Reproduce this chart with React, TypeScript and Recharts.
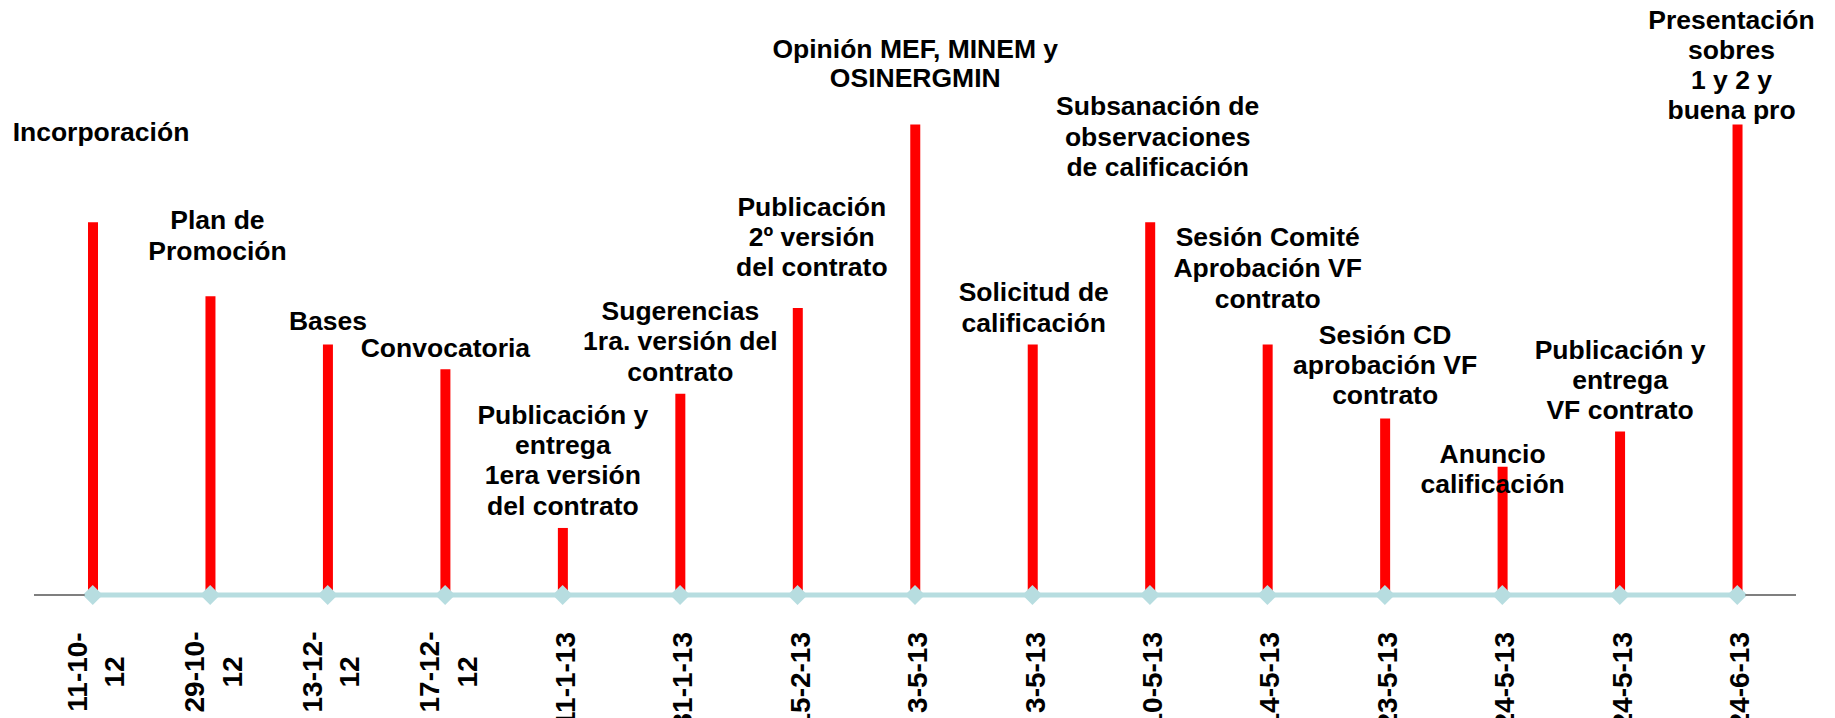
import React from "react";
import { ComposedChart, Bar, Line, XAxis, YAxis, LabelList } from "recharts";

// ---- data ----
const dates = [
  "11-10-12", "29-10-12", "13-12-12", "17-12-12", "11-1-13",
  "31-1-13", "15-2-13", "3-5-13", "3-5-13", "10-5-13",
  "14-5-13", "23-5-13", "24-5-13", "24-5-13", "24-6-13",
];
const heights = [3.17, 2.54, 2.13, 1.92, 0.57, 1.71, 2.44, 4.0, 2.13, 3.17, 2.13, 1.5, 1.09, 1.39, 4.0];
const events: string[][] = [
  ["Incorporación"],
  ["Plan de", "Promoción"],
  ["Bases"],
  ["Convocatoria"],
  ["Publicación y", "entrega", "1era versión", "del contrato"],
  ["Sugerencias", "1ra. versión del", "contrato"],
  ["Publicación", "2º versión", "del contrato"],
  ["Opinión MEF, MINEM y", "OSINERGMIN"],
  ["Solicitud de", "calificación"],
  ["Subsanación de", "observaciones", "de calificación"],
  ["Sesión Comité", "Aprobación VF", "contrato"],
  ["Sesión CD", "aprobación VF", "contrato"],
  ["Anuncio", "calificación"],
  ["Publicación y", "entrega", "VF contrato"],
  ["Presentación", "sobres", "1 y 2 y", "buena pro"],
];

// ---- label placement (style) ----
const labelDx = [8, 7, 0, 0, 0, 0, 14, 0, 1, 7.5, 0, 0, -10, 0, -6];
const labelDy = [-81, -36.7, -14.3, -12.6, -13.3, -13.3, -31.6, -38, -12.3, -46, -36.7, -14.3, 26, -13, -6];
const labelLineH = [30, 31, 30, 30, 30.3, 30.3, 30.3, 29, 31, 30.5, 30.8, 30, 30, 30, 30];

const FONT = "'Liberation Sans', Arial, Helvetica, sans-serif";
const BLUE = "#B7DDE0";
const GREY = "#7F7F7F";
const N = dates.length;

const data = dates.map((d, i) => ({ idx: i, date: d, height: heights[i], base: 0 }));

const EventLabel = (props: any) => {
  const { x, y, width, index } = props;
  const lines = events[index];
  if (!lines) return null;
  const cx = Number(x) + Number(width) / 2 + labelDx[index];
  const lastBase = Number(y) + labelDy[index];
  const lh = labelLineH[index];
  const n = lines.length;
  return (
    <text textAnchor="middle" fontFamily={FONT} fontWeight="bold" fontSize={26.5} fill="#000">
      {lines.map((l, i) => (
        <tspan key={i} x={cx} y={lastBase - (n - 1 - i) * lh}>
          {l}
        </tspan>
      ))}
    </text>
  );
};

const DateTick = (props: any) => {
  const { x, y, payload } = props;
  const idx = Number(payload.value);
  const label = dates[idx] ?? "";
  const lines = label.length >= 8 ? [label.slice(0, 6), label.slice(6)] : [label];
  const half = (Number(props.width) || 1762) / N / 2;
  // grey axis stub outside the blue timeline
  let stub: React.ReactNode = null;
  if (idx === 0) {
    stub = <line x1={-half} y1={0} x2={-8} y2={0} stroke={GREY} strokeWidth={2} />;
  } else if (idx === N - 1) {
    stub = <line x1={8} y1={0} x2={half} y2={0} stroke={GREY} strokeWidth={2} />;
  }
  const common = {
    fontFamily: FONT,
    fontWeight: "bold" as const,
    fontSize: 28,
    fill: "#000",
  };
  return (
    <g transform={`translate(${x},${y})`}>
      {stub}
      {lines.length === 1 ? (
        <text transform="rotate(-90)" x={-37} y={2} dy="0.36em" textAnchor="end" {...common}>
          {lines[0]}
        </text>
      ) : (
        lines.map((l, i) => (
          <text
            key={i}
            transform="rotate(-90)"
            x={-77}
            y={2.7 + (i === 0 ? -18.8 : 18.8)}
            dy="0.36em"
            textAnchor="middle"
            {...common}
          >
            {l}
          </text>
        ))
      )}
    </g>
  );
};

const Diamond = (props: any) => {
  const { cx, cy } = props;
  if (cx == null || cy == null) return null;
  const r = 10;
  return (
    <path
      d={`M${cx} ${cy - r} L${cx + r} ${cy} L${cx} ${cy + r} L${cx - r} ${cy} Z`}
      fill={BLUE}
      stroke="none"
    />
  );
};

export default function App() {
  return (
    <div style={{ position: "absolute", left: 0, top: 0, width: 1835, height: 718, background: "#fff" }}>
      <ComposedChart
        width={1835}
        height={718}
        data={data}
        margin={{ top: 124.5, right: 39, bottom: 0, left: 34 }}
      >
        <XAxis
          dataKey="idx"
          type="category"
          interval={0}
          height={123}
          tickSize={0}
          tickMargin={0}
          tickLine={false}
          axisLine={false}
          tick={<DateTick />}
        />
        <YAxis hide domain={[0, 4]} />
        <Bar dataKey="height" fill="#FF0000" barSize={10} isAnimationActive={false}>
          <LabelList dataKey="height" content={<EventLabel />} />
        </Bar>
        <Line
          dataKey="base"
          stroke={BLUE}
          strokeWidth={5}
          dot={<Diamond />}
          activeDot={false}
          isAnimationActive={false}
        />
      </ComposedChart>
    </div>
  );
}
